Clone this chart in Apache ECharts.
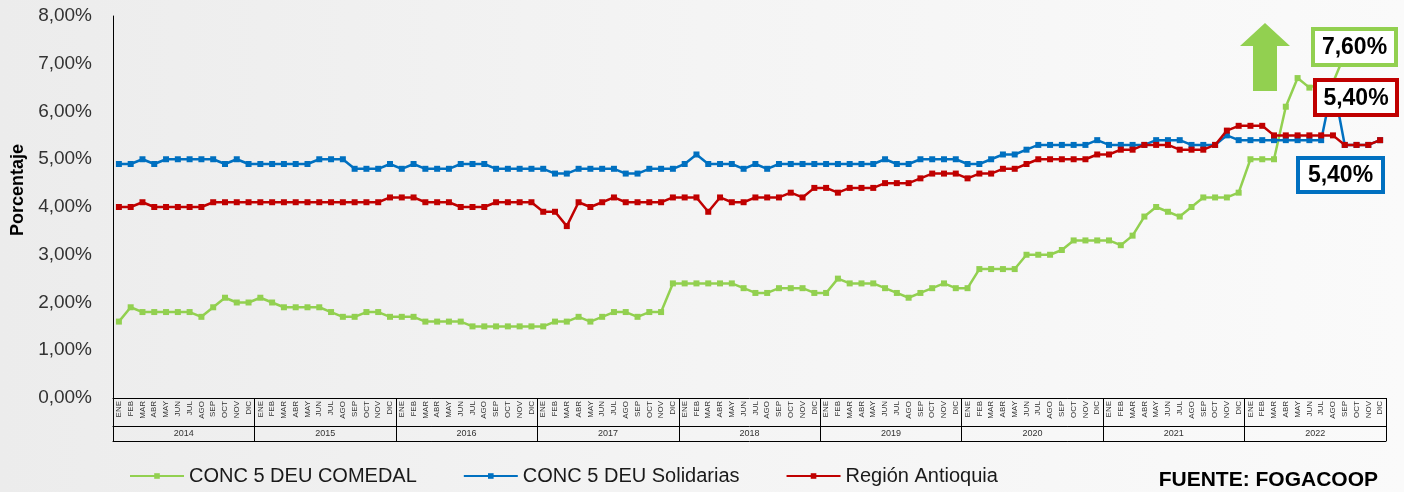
<!DOCTYPE html>
<html>
<head>
<meta charset="utf-8">
<script src="https://cdn.jsdelivr.net/npm/echarts@6/dist/echarts.min.js"></script>
<style>
  html, body { margin: 0; padding: 0; }
  #chart { width: 1404px; height: 492px; }
</style>
</head>
<body>
<div id="chart"></div>
<script>
// Meses y años del eje de categorías (dos niveles)
const meses = ['ENE', 'FEB', 'MAR', 'ABR', 'MAY', 'JUN', 'JUL', 'AGO', 'SEP', 'OCT', 'NOV', 'DIC'];
const anios = ['2014', '2015', '2016', '2017', '2018', '2019', '2020', '2021', '2022'];

// Marcas del eje Y (porcentaje)
const yTicks = [0, 1, 2, 3, 4, 5, 6, 7, 8];

// Indicador mensual (%) por serie, enero 2014 a diciembre 2022
const comedal = [
  1.6, 1.9, 1.8, 1.8, 1.8, 1.8, 1.8, 1.7, 1.9, 2.1, 2.0, 2.0,
  2.1, 2.0, 1.9, 1.9, 1.9, 1.9, 1.8, 1.7, 1.7, 1.8, 1.8, 1.7,
  1.7, 1.7, 1.6, 1.6, 1.6, 1.6, 1.5, 1.5, 1.5, 1.5, 1.5, 1.5,
  1.5, 1.6, 1.6, 1.7, 1.6, 1.7, 1.8, 1.8, 1.7, 1.8, 1.8, 2.4,
  2.4, 2.4, 2.4, 2.4, 2.4, 2.3, 2.2, 2.2, 2.3, 2.3, 2.3, 2.2,
  2.2, 2.5, 2.4, 2.4, 2.4, 2.3, 2.2, 2.1, 2.2, 2.3, 2.4, 2.3,
  2.3, 2.7, 2.7, 2.7, 2.7, 3.0, 3.0, 3.0, 3.1, 3.3, 3.3, 3.3,
  3.3, 3.2, 3.4, 3.8, 4.0, 3.9, 3.8, 4.0, 4.2, 4.2, 4.2, 4.3,
  5.0, 5.0, 5.0, 6.1, 6.7, 6.5, 6.6, 6.6, 7.2, 7.4, 7.5, 7.6
];
const solidarias = [
  4.9, 4.9, 5.0, 4.9, 5.0, 5.0, 5.0, 5.0, 5.0, 4.9, 5.0, 4.9,
  4.9, 4.9, 4.9, 4.9, 4.9, 5.0, 5.0, 5.0, 4.8, 4.8, 4.8, 4.9,
  4.8, 4.9, 4.8, 4.8, 4.8, 4.9, 4.9, 4.9, 4.8, 4.8, 4.8, 4.8,
  4.8, 4.7, 4.7, 4.8, 4.8, 4.8, 4.8, 4.7, 4.7, 4.8, 4.8, 4.8,
  4.9, 5.1, 4.9, 4.9, 4.9, 4.8, 4.9, 4.8, 4.9, 4.9, 4.9, 4.9,
  4.9, 4.9, 4.9, 4.9, 4.9, 5.0, 4.9, 4.9, 5.0, 5.0, 5.0, 5.0,
  4.9, 4.9, 5.0, 5.1, 5.1, 5.2, 5.3, 5.3, 5.3, 5.3, 5.3, 5.4,
  5.3, 5.3, 5.3, 5.3, 5.4, 5.4, 5.4, 5.3, 5.3, 5.3, 5.5, 5.4,
  5.4, 5.4, 5.4, 5.4, 5.4, 5.4, 5.4, 6.6, 5.3, 5.3, 5.3, 5.4
];
const antioquia = [
  4.0, 4.0, 4.1, 4.0, 4.0, 4.0, 4.0, 4.0, 4.1, 4.1, 4.1, 4.1,
  4.1, 4.1, 4.1, 4.1, 4.1, 4.1, 4.1, 4.1, 4.1, 4.1, 4.1, 4.2,
  4.2, 4.2, 4.1, 4.1, 4.1, 4.0, 4.0, 4.0, 4.1, 4.1, 4.1, 4.1,
  3.9, 3.9, 3.6, 4.1, 4.0, 4.1, 4.2, 4.1, 4.1, 4.1, 4.1, 4.2,
  4.2, 4.2, 3.9, 4.2, 4.1, 4.1, 4.2, 4.2, 4.2, 4.3, 4.2, 4.4,
  4.4, 4.3, 4.4, 4.4, 4.4, 4.5, 4.5, 4.5, 4.6, 4.7, 4.7, 4.7,
  4.6, 4.7, 4.7, 4.8, 4.8, 4.9, 5.0, 5.0, 5.0, 5.0, 5.0, 5.1,
  5.1, 5.2, 5.2, 5.3, 5.3, 5.3, 5.2, 5.2, 5.2, 5.3, 5.6, 5.7,
  5.7, 5.7, 5.5, 5.5, 5.5, 5.5, 5.5, 5.5, 5.3, 5.3, 5.3, 5.4
];

const nombres = ['CONC 5 DEU COMEDAL', 'CONC 5 DEU Solidarias', 'Región Antioquia'];
const colores = ['#92d050', '#0070c0', '#c00000'];

const FONT = '"Liberation Sans", Arial, Helvetica, sans-serif';
const pct = v => v.toFixed(2).replace('.', ',') + '%';

// Categorías únicas "MES AÑO"; el eje solo muestra el mes
const categorias = [];
anios.forEach(a => meses.forEach(m => categorias.push(m + ' ' + a)));

const chart = echarts.init(document.getElementById('chart'), null, { renderer: 'canvas' });

const serie = (i, datos) => ({
  name: nombres[i],
  type: 'line',
  xAxisIndex: 0,
  yAxisIndex: 0,
  data: datos,
  symbol: 'rect',
  symbolSize: 6,
  showAllSymbol: true,
  lineStyle: { color: colores[i], width: 2.5 },
  itemStyle: { color: colores[i] },
  emphasis: { disabled: true },
  z: 2 + i
});

// Recuadro con el último valor de una serie
const etiqueta = (x, y, w, h, color, valor) => ({
  type: 'group',
  x: x,
  y: y,
  z: 100,
  children: [
    {
      type: 'rect',
      z: 100,
      shape: { x: 0, y: 0, width: w, height: h },
      style: { fill: '#ffffff', stroke: color, lineWidth: 4 }
    },
    {
      type: 'text',
      z: 101,
      x: w / 2,
      y: h / 2 + 1,
      style: {
        text: pct(valor),
        fill: '#000000',
        font: 'bold 23px ' + FONT,
        align: 'center',
        verticalAlign: 'middle'
      }
    }
  ]
});

const n = categorias.length;

chart.setOption({
  animation: false,
  backgroundColor: {
    type: 'linear', x: 0, y: 0, x2: 1, y2: 0,
    colorStops: [
      { offset: 0, color: '#ececec' },
      { offset: 0.5, color: '#f4f4f4' },
      { offset: 1, color: '#fafafa' }
    ]
  },
  textStyle: { fontFamily: FONT },
  grid: { left: 113, right: 18, top: 16, bottom: 94, containLabel: false },
  legend: {
    data: nombres,
    left: 129,
    top: 466,
    padding: 0,
    itemWidth: 54,
    itemHeight: 7,
    itemGap: 46,
    textStyle: { fontSize: 20, color: '#1a1a1a', fontFamily: FONT }
  },
  xAxis: [
    {
      type: 'category',
      data: categorias,
      position: 'bottom',
      boundaryGap: true,
      axisLine: { show: true, lineStyle: { color: '#000000', width: 1 } },
      axisTick: { show: false },
      axisLabel: {
        interval: 0,
        rotate: 90,
        margin: 3,
        fontSize: 8,
        color: '#333333',
        fontFamily: FONT,
        formatter: v => v.split(' ')[0]
      },
      splitLine: { show: false }
    },
    {
      type: 'category',
      data: anios,
      position: 'bottom',
      boundaryGap: true,
      axisLine: { show: false },
      axisTick: { show: true, interval: 0, length: 43, lineStyle: { color: '#000000', width: 1 } },
      axisLabel: { interval: 0, margin: 31, fontSize: 9, color: '#333333', fontFamily: FONT },
      splitLine: { show: false }
    },
    {
      type: 'category',
      data: anios,
      position: 'bottom',
      offset: 28,
      axisLine: { show: true, lineStyle: { color: '#000000', width: 1 } },
      axisTick: { show: false },
      axisLabel: { show: false },
      splitLine: { show: false }
    },
    {
      type: 'category',
      data: anios,
      position: 'bottom',
      offset: 43,
      axisLine: { show: true, lineStyle: { color: '#000000', width: 1 } },
      axisTick: { show: false },
      axisLabel: { show: false },
      splitLine: { show: false }
    }
  ],
  yAxis: {
    type: 'value',
    min: yTicks[0],
    max: yTicks[yTicks.length - 1],
    interval: 1,
    axisLine: { show: true, lineStyle: { color: '#000000', width: 1 } },
    axisTick: { show: false },
    splitLine: { show: false },
    axisLabel: {
      margin: 21,
      fontSize: 19,
      color: '#333333',
      fontFamily: FONT,
      formatter: v => pct(v)
    }
  },
  series: [
    serie(0, comedal),
    serie(1, solidarias),
    serie(2, antioquia)
  ],
  graphic: [
    {
      type: 'text',
      x: 18,
      y: 190,
      rotation: Math.PI / 2,
      style: {
        text: 'Porcentaje',
        fill: '#000000',
        font: 'bold 18px ' + FONT,
        align: 'center',
        verticalAlign: 'middle'
      }
    },
    {
      type: 'polygon',
      z: 100,
      shape: {
        points: [[1265, 23], [1290, 46], [1277, 46], [1277, 91], [1253, 91], [1253, 46], [1240, 46]]
      },
      style: { fill: '#92d050' }
    },
    etiqueta(1313, 29, 83, 36, colores[0], comedal[n - 1]),
    etiqueta(1315, 80, 82, 35, colores[2], antioquia[n - 1]),
    etiqueta(1298, 158, 85, 34, colores[1], solidarias[n - 1]),
    {
      type: 'text',
      x: 1378,
      y: 480,
      style: {
        text: 'FUENTE: FOGACOOP',
        fill: '#000000',
        font: 'bold 21px ' + FONT,
        align: 'right',
        verticalAlign: 'middle'
      }
    }
  ]
});
</script>
</body>
</html>
